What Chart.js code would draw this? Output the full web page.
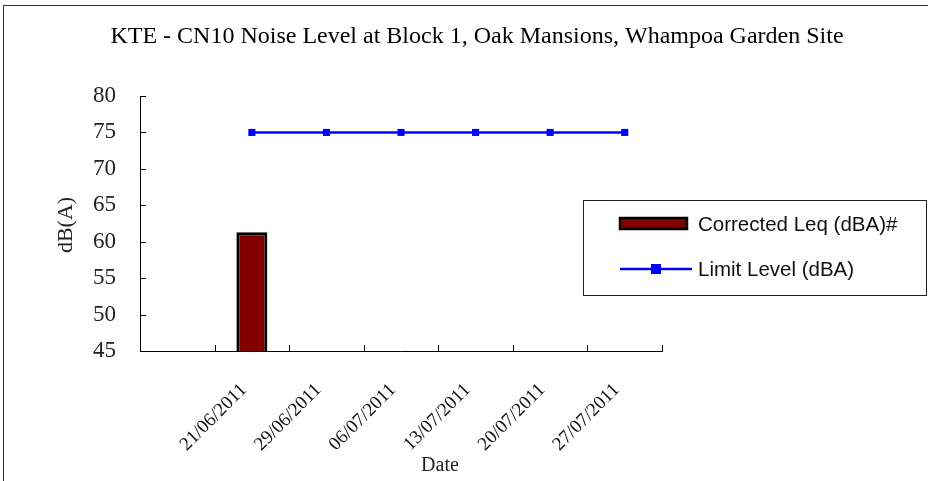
<!DOCTYPE html>
<html>
<head>
<meta charset="utf-8">
<script src="https://cdn.jsdelivr.net/npm/chart.js@4"></script>
<style>
  html, body { margin: 0; padding: 0; background: #fff; overflow: hidden; }
  #wrap { position: relative; width: 928px; height: 481px; }
  #frame { position: absolute; left: 3px; top: 5px; width: 1000px; height: 1000px; border: 1px solid #333; box-sizing: border-box; }
  canvas { position: absolute; left: 0; top: 0; }
</style>
</head>
<body>
<div id="wrap">
  <div id="frame"></div>
  <canvas id="noiseChart" width="928" height="481"></canvas>
</div>
<script>
// Chart data
const dates = ["", "21/06/2011", "29/06/2011", "06/07/2011", "13/07/2011", "20/07/2011", "27/07/2011"];
const correctedLeq = [null, 61.3, null, null, null, null, null];
const limitLevel = [null, 75, 75, 75, 75, 75, 75];
const yMin = 45;
const yMax = 80;
const yStep = 5;

const chartTitle = "KTE - CN10 Noise Level at Block 1, Oak Mansions, Whampoa Garden Site";
const xTitle = "Date";
const yTitle = "dB(A)";

const serif = "'Liberation Serif', 'Times New Roman', serif";

// Titles placed like the Excel original (not centred on the plot)
const titles = {
    id: "titles",
    afterDraw(chart) {
        const ctx = chart.ctx;
        ctx.save();
        ctx.fillStyle = "#000";
        ctx.textAlign = "center";
        ctx.textBaseline = "alphabetic";
        ctx.font = "24px " + serif;
        ctx.fillText(chartTitle, 477, 43);
        ctx.font = "20px " + serif;
        ctx.fillStyle = "#222";
        ctx.fillText(xTitle, 440, 471);
        ctx.translate(66, 225);
        ctx.rotate(-Math.PI / 2);
        ctx.textBaseline = "middle";
        ctx.font = "22px " + serif;
        ctx.fillText(yTitle, 0, 0);
        ctx.restore();
    }
};

// Excel style tick marks pointing into the plot
const insideTicks = {
    id: "insideTicks",
    afterDraw(chart) {
        const { ctx, chartArea, scales } = chart;
        const x = scales.x, y = scales.y;
        ctx.save();
        ctx.strokeStyle = "#000";
        ctx.lineWidth = 1;
        ctx.beginPath();
        y.ticks.forEach(t => {
            const py = Math.round(y.getPixelForValue(t.value)) + 0.5;
            ctx.moveTo(chartArea.left, py);
            ctx.lineTo(chartArea.left + 6, py);
        });
        const half = (x.getPixelForValue(1) - x.getPixelForValue(0)) / 2;
        for (let i = 0; i < dates.length; i++) {
            const px = Math.round(x.getPixelForValue(i) + half) + 0.5;
            ctx.moveTo(px, chartArea.bottom);
            ctx.lineTo(px, chartArea.bottom - 6);
        }
        ctx.stroke();
        ctx.restore();
    }
};

// Boxed legend sitting over the right side of the plot
const boxLegend = {
    id: "boxLegend",
    afterDraw(chart) {
        const ctx = chart.ctx;
        const sets = chart.data.datasets;
        ctx.save();
        ctx.fillStyle = "#fff";
        ctx.fillRect(583, 200, 343, 95);
        ctx.strokeStyle = "#222";
        ctx.lineWidth = 1;
        ctx.strokeRect(583.5, 200.5, 343, 95);

        // bar entry
        ctx.fillStyle = sets[0].backgroundColor;
        ctx.fillRect(620, 218, 67, 11);
        ctx.strokeStyle = sets[0].borderColor;
        ctx.lineWidth = 2.5;
        ctx.strokeRect(620, 218, 67, 11);

        // line entry
        ctx.strokeStyle = sets[1].borderColor;
        ctx.lineWidth = 2.5;
        ctx.beginPath();
        ctx.moveTo(620, 269);
        ctx.lineTo(692, 269);
        ctx.stroke();
        ctx.fillStyle = sets[1].pointBackgroundColor;
        ctx.fillRect(651, 264, 10, 10);

        ctx.fillStyle = "#111";
        ctx.font = "20.5px 'Liberation Sans', Arial, sans-serif";
        ctx.textBaseline = "middle";
        ctx.textAlign = "left";
        ctx.fillText(sets[0].label, 698, 225);
        ctx.fillText(sets[1].label, 698, 270);
        ctx.restore();
    }
};

new Chart(document.getElementById("noiseChart"), {
    type: "bar",
    data: {
        labels: dates,
        datasets: [
            {
                type: "bar",
                label: "Corrected Leq (dBA)#",
                data: correctedLeq,
                backgroundColor: "#800000",
                borderColor: "#000",
                borderWidth: 3,
                categoryPercentage: 1,
                barPercentage: 0.415,
                order: 1,
            },
            {
                type: "line",
                label: "Limit Level (dBA)",
                data: limitLevel,
                borderColor: "#0000ff",
                borderWidth: 2.5,
                pointStyle: "rect",
                pointRadius: 5,
                pointBackgroundColor: "#0000ff",
                pointBorderColor: "#0000ff",
                pointBorderWidth: 0,
                tension: 0,
                order: 0,
            },
        ],
    },
    options: {
        responsive: false,
        animation: false,
        layout: {
            padding: { left: 0, right: 266, top: 96, bottom: 0 },
        },
        plugins: {
            legend: { display: false },
            tooltip: { enabled: false },
            title: { display: false },
        },
        scales: {
            x: {
                grid: { display: false, drawTicks: false },
                border: { display: true, color: "#000", width: 1 },
                ticks: {
                    color: "#111",
                    font: { family: serif, size: 19 },
                    minRotation: 45,
                    maxRotation: 45,
                    autoSkip: false,
                    padding: 28,
                    labelOffset: -8,
                },
                afterFit(scale) { scale.height = 130; },
            },
            y: {
                min: yMin,
                max: yMax,
                grid: { display: false, drawTicks: false },
                border: { display: true, color: "#000", width: 1 },
                ticks: {
                    stepSize: yStep,
                    color: "#222",
                    font: { family: serif, size: 23 },
                    padding: 24,
                },
                afterFit(scale) { scale.width = 140; },
            },
        },
    },
    plugins: [titles, insideTicks, boxLegend],
});
</script>
</body>
</html>
